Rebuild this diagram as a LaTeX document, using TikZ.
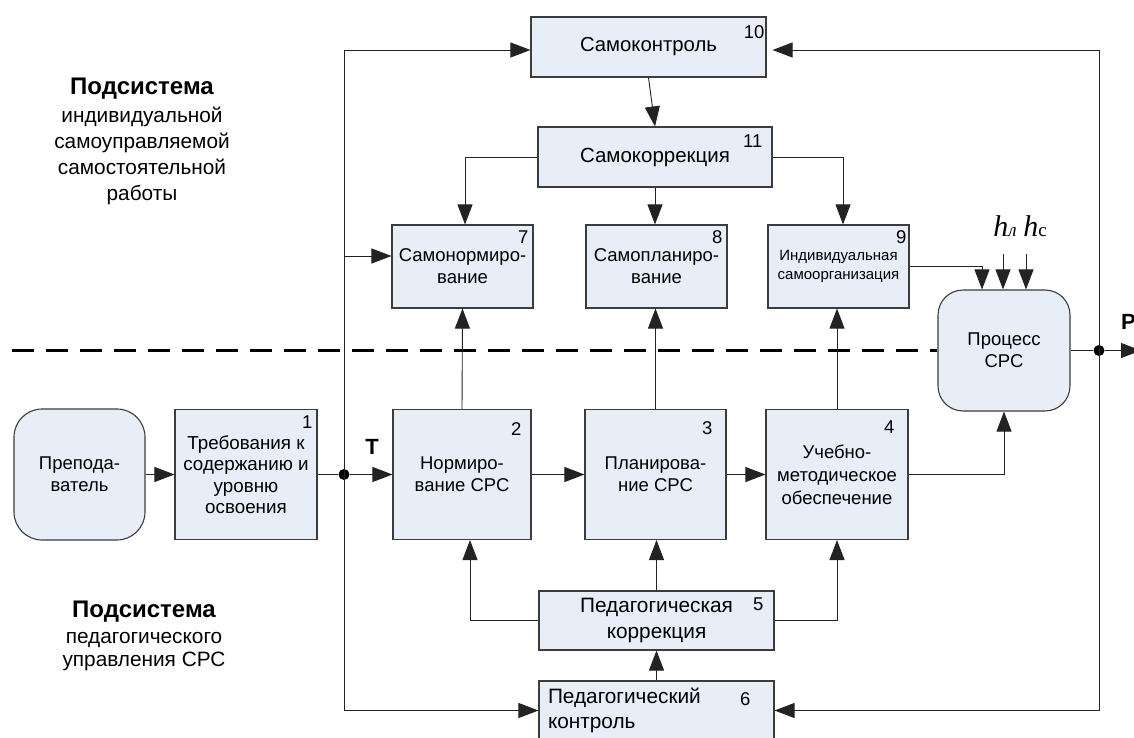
\documentclass[tikz,border=0pt]{standalone}
\usepackage{fontspec}
\setmainfont{Liberation Sans}
\newfontfamily\serifont{Liberation Serif}
\usetikzlibrary{arrows.meta,calc}
\definecolor{boxfill}{RGB}{231,238,248}
\definecolor{boxline}{RGB}{60,60,60}
\definecolor{connclr}{RGB}{35,35,35}
\begin{document}
\begin{tikzpicture}[x=1pt,y=-1pt,
  font=\fontsize{18.5}{22}\selectfont,
  blk/.style={draw=boxline, line width=1.1pt, fill=boxfill, inner sep=0pt, align=center},
  num/.style={inner sep=0pt, anchor=north east, font=\fontsize{18.5}{18.5}\selectfont},
  ln/.style={draw=connclr, line width=0.9pt},
  ar/.style={ln, -{Triangle[length=20pt,width=15pt]}},
  dot/.style={circle, fill=black, inner sep=0pt, minimum size=11pt},
  lbl/.style={inner sep=0pt, align=center},
  dashln/.style={draw=black, line width=3.2pt, dash pattern=on 22pt off 12pt}]
\useasboundingbox (0,0) rectangle (1134,738);
\clip (0,0) rectangle (1134,738);

% dashed boundary
\coordinate (dl) at (12,350.5);

% boxes
\node[blk, rounded corners=28pt, minimum width=131pt, minimum height=131pt] (prep) at (79.5,474.5) {Препода-\\ватель};
\node[blk, minimum width=142pt, minimum height=130pt, font=\fontsize{18.8}{21.5}\selectfont] (b1) at (246,474.5) {Требования к\\содержанию и\\уровню\\освоения};
\node[blk, minimum width=138pt, minimum height=130pt] (b2) at (462,474.5) {Нормиро-\\вание СРС};
\node[blk, minimum width=141pt, minimum height=130pt] (b3) at (655.5,474.5) {Планирова-\\ние СРС};
\node[blk, minimum width=142pt, minimum height=130pt, font=\fontsize{18.5}{23}\selectfont] (b4) at (837,474.5) {Учебно-\\методическое\\обеспечение};
\node[blk, minimum width=235pt, minimum height=59pt, font=\fontsize{20.8}{26}\selectfont] (b5) at (656.5,620.5) {Педагогическая\\коррекция};
\node[blk, minimum width=235pt, minimum height=59pt, text width=217pt, align=left, font=\fontsize{20.8}{25}\selectfont] (b6) at (656.5,710.5) {Педагогический\\контроль};
\node[blk, minimum width=141pt, minimum height=83pt] (b7) at (462.5,266.5) {Самонормиро-\\вание};
\node[blk, minimum width=141pt, minimum height=83pt] (b8) at (656.5,266.5) {Самопланиро-\\вание};
\node[blk, minimum width=141pt, minimum height=83pt, font=\fontsize{15}{18.5}\selectfont] (b9) at (838.5,266.5) {Индивидуальная\\самоорганизация};
\node[blk, minimum width=235pt, minimum height=60pt, font=\fontsize{20.3}{22}\selectfont] (b10) at (648.5,47) {Самоконтроль};
\node[blk, minimum width=234pt, minimum height=60pt, font=\fontsize{20.5}{22}\selectfont] (b11) at (655,157) {Самокоррекция};
\node[blk, rounded corners=25pt, minimum width=132pt, minimum height=121pt] (proc) at (1004,350.5) {Процесс\\СРС};

% numbers
\node[num] (n1) at ($(b1.north east)+(-5,7)$) {1};
\node[num] (n2) at ($(b2.north east)+(-10,13)$) {2};
\node[num] (n3) at ($(b3.north east)+(-14,12)$) {3};
\node[num] (n4) at ($(b4.north east)+(-14,12)$) {4};
\node[num] (n5) at ($(b5.north east)+(-11,7)$) {5};
\node[num] (n6) at ($(b6.north east)+(-24,12)$) {6};
\node[num] (n7) at ($(b7.north east)+(-5,6)$) {7};
\node[num] (n8) at ($(b8.north east)+(-5,6)$) {8};
\node[num] (n9) at ($(b9.north east)+(-3,6)$) {9};
\node[num] (n10) at ($(b10.north east)+(-2,9)$) {10};
\node[num] (n11) at ($(b11.north east)+(-10,8)$) {11};

% dots and helper coordinates
\node[dot] (d1) at (344,474.5) {};
\node[dot] (d2) at (1099,350.5) {};
\coordinate (tl) at (344,50);
\coordinate (l7) at (344,256);
\coordinate (bl) at (344,710.5);
\coordinate (tr) at (1099,50);
\coordinate (br) at (1099,710.5);
\coordinate (h1) at (1003,254);
\coordinate (h2) at (1026,254);
\coordinate (out) at (1141,350.5);

% dashed line
\draw[dashln] (dl) -- (proc.west);

% left and right feedback loops
\draw[ln] (tl) -- (bl);
\draw[ar] (tl) -- (tl -| b10.west);
\draw[ar] (l7) -- (l7 -| b7.west);
\draw[ar] (bl) -- (b6.west);
\draw[ln] (tr) -- (br);
\draw[ar, shorten >=6pt] (tr) -- (tr -| b10.east);
\draw[ar] (br) -- (b6.east);

% main chain
\draw[ar] (prep.east) -- (b1.west);
\draw[ln] (b1.east) -- (d1);
\draw[ar] (d1) -- (b2.west);
\draw[ar] (b2.east) -- (b3.west);
\draw[ar] (b3.east) -- (b4.west);
\draw[ar] (b4.east) -| (proc.south);

% pedagogical part up
\draw[ar] (b2.north) -- (b7.south);
\draw[ar] (b3.north) -- (b3.north |- b8.south);
\draw[ar] (b4.north) -- (b4.north |- b9.south);

% self-control part
\draw[ar] (b10.south) -- (b11.north);
\draw[ar] (b11.west) -| ([xshift=2.5pt]b7.north);
\draw[ar] (b11.south) -- (b11.south |- b8.north);
\draw[ar] (b11.east) -| ([xshift=4.5pt]b9.north);
\draw[ar] (b9.east) -| ([xshift=-22pt]proc.north);
\draw[ar] (h1) -- (h1 |- proc.north);
\draw[ar] (h2) -- (h2 |- proc.north);

% pedagogical correction
\draw[ar] (b6.north) -- (b5.south);
\draw[ar] (b5.north) -- (b5.north |- b3.south);
\draw[ar] (b5.west) -| ([xshift=8pt]b2.south);
\draw[ar] (b5.east) -| (b4.south);

% output
\draw[ln] (proc.east) -- (d2);
\draw[ar] (d2) -- (out);

% labels
\node[lbl, font=\bfseries\fontsize{22}{22}\selectfont] (T) at (372,447) {T};
\node[lbl, anchor=west, font=\bfseries\fontsize{22}{22}\selectfont] (P) at (1121,322) {P};
\node[lbl, font=\serifont\itshape\fontsize{30}{30}\selectfont] (hl) at (1005,226) {h{\fontsize{19}{19}\selectfont л}};
\node[lbl, font=\serifont\fontsize{30}{30}\selectfont] (hc) at (1035,226) {{\itshape h}{\fontsize{19}{19}\selectfont с}};

\node[lbl, font=\bfseries\fontsize{24}{24}\selectfont] (s1h) at (142,89) {Подсистема};
\node[lbl, font=\fontsize{20.8}{26}\selectfont] (s1) at (142,156) {индивидуальной\\самоуправляемой\\самостоятельной\\работы};
\node[lbl, font=\bfseries\fontsize{24}{24}\selectfont] (s2h) at (144,612) {Подсистема};
\node[lbl, font=\fontsize{20.8}{23}\selectfont] (s2) at (144,651.5) {педагогического\\управления СРС};
\end{tikzpicture}
\end{document}
